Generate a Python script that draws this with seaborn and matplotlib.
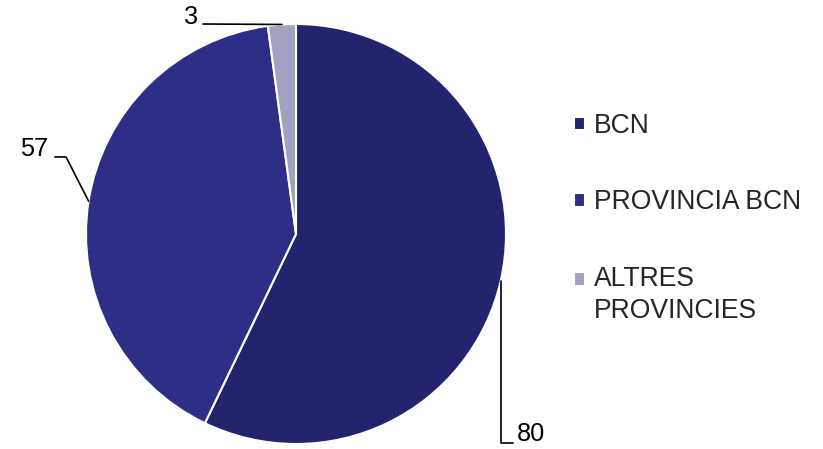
import matplotlib
matplotlib.use('Agg')
import matplotlib.pyplot as plt
import seaborn as sns
import numpy as np

labels = ['BCN', 'PROVINCIA BCN', 'ALTRES\nPROVINCIES']
values = [80, 57, 3]
palette = ['#23236e', '#2e2e87', '#a2a2c0']

sns.set_style('white')
plt.rcParams['font.family'] = ['Liberation Sans', 'DejaVu Sans']
FS = 18.3
LEG_FS = 19.1

fig = plt.figure(figsize=(8.23, 4.49), dpi=100)
# pie box: x 86..506 px, y 24..444 px
ax = fig.add_axes([86 / 823, 5 / 449, 420 / 823, 420 / 449])

wedges, _ = ax.pie(values, colors=palette, startangle=90, counterclock=False,
                   radius=1.0, wedgeprops=dict(edgecolor='white', linewidth=1.5))
ax.set_xlim(-1, 1)
ax.set_ylim(-1, 1)
ax.set_aspect('equal')
ax.axis('off')

# leader line layouts: (elbow, end, text position, alignment)
layouts = [
    (('v', -0.995), (1.033, -0.995), (1.05, -0.952), 'left'),
    ((-1.095, 0.367), (-1.148, 0.367), (-1.178, 0.405), 'right'),
    (None, (-0.443, 1.0), (-0.465, 1.035), 'right'),
]

for w, v, (elbow, end, tpos, ha) in zip(wedges, values, layouts):
    mid = np.deg2rad((w.theta1 + w.theta2) / 2)
    x0, y0 = np.cos(mid), np.sin(mid)
    pts = [(x0, y0)]
    if elbow is not None:
        if elbow[0] == 'v':
            pts.append((x0, elbow[1]))
        else:
            pts.append(elbow)
    pts.append(end)
    xs, ys = zip(*pts)
    ax.plot(xs, ys, color='black', lw=1.2, clip_on=False)
    ax.text(tpos[0], tpos[1], str(v), ha=ha, va='center', fontsize=FS,
            color='black', clip_on=False)

leg = ax.legend(wedges, labels, loc='upper left',
                bbox_to_anchor=(574 / 823, 1 - 113 / 449), bbox_transform=fig.transFigure,
                frameon=False, fontsize=LEG_FS, handlelength=0.42, handleheight=0.42,
                handletextpad=0.32, labelspacing=1.9, borderpad=0, borderaxespad=0)
for t in leg.get_texts():
    t.set_linespacing(1.3)
# align the marker of the two-line entry with its first line
h = leg.legend_handles[2]
h.set_y(h.get_y() + 0.62 * LEG_FS)

fig.savefig('out.png', dpi=100)
